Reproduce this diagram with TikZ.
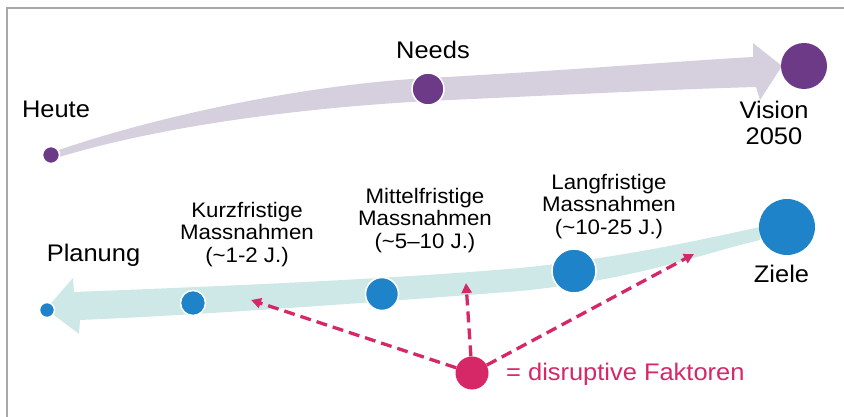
\documentclass[tikz,border=0pt]{standalone}
\usepackage{fontspec}
\setmainfont[FakeStretch=1.06]{Liberation Sans}
\usetikzlibrary{arrows.meta}

\definecolor{bandpurple}{RGB}{214,208,222}
\definecolor{dotpurple}{RGB}{108,58,134}
\definecolor{bandteal}{RGB}{205,232,231}
\definecolor{dotblue}{RGB}{30,131,200}
\definecolor{disrupt}{RGB}{214,40,102}
\definecolor{framegray}{RGB}{168,168,168}

\tikzset{
  dot/.style={circle, inner sep=0pt, draw=white, line width=1.5pt},
  purpledot/.style={dot, fill=dotpurple},
  bluedot/.style={dot, fill=dotblue},
  biglabel/.style={font=\fontsize{24}{26}\selectfont, inner sep=0pt, align=center},
  smalllabel/.style={font=\fontsize{21}{22.5}\selectfont, inner sep=0pt, align=center},
  impact/.style={draw=disrupt, line width=3.3pt, dash pattern=on 11pt off 6pt,
    -{Triangle[length=10pt,width=10pt]}}
}

\begin{document}
\begin{tikzpicture}[x=1pt,y=-1pt]
  \useasboundingbox (0,0) rectangle (844,417);
  \fill[white] (0,0) rectangle (844,417);
  % frame edges
  \draw[framegray, line width=2pt] (7,417) -- (7,8.5) -- (844,8.5);

  % upper band: from today towards the vision
  \fill[bandpurple] (53,152) .. controls (150,118) and (300,85) .. (428,78)
    .. controls (560,71) and (680,61) .. (753,57) -- (753,43) -- (782,66)
    -- (760,100) -- (756,87) .. controls (680,89) and (560,95) .. (428,101)
    .. controls (300,108) and (160,126) .. (56,158) -- cycle;

  % lower band: from the goals back to planning
  \fill[bandteal] (760,227) .. controls (700,240) and (620,258) .. (520,268)
    .. controls (380,280) and (200,287) .. (74,292) -- (73,278) -- (46,309)
    -- (79,334) -- (80,320) .. controls (200,315) and (380,302) .. (520,291)
    .. controls (640,279) and (700,254) .. (760,240) -- cycle;

  % milestones
  \node[purpledot, minimum size=17pt] (heute) at (51,155) {};
  \node[purpledot, minimum size=32pt] (needs) at (428,89) {};
  \node[purpledot, minimum size=46pt, draw=none] (vision) at (804,66) {};

  \node[bluedot, minimum size=15pt] (planung) at (47,310) {};
  \node[bluedot, minimum size=25pt] (kurz) at (193,303) {};
  \node[bluedot, minimum size=33pt] (mittel) at (382,294) {};
  \node[bluedot, minimum size=44pt] (lang) at (574,271) {};
  \node[bluedot, minimum size=56pt, draw=none] (ziele) at (787,227) {};

  \node[circle, inner sep=0pt, minimum size=33pt, fill=disrupt] (pink) at (472,373) {};

  % labels
  \node[biglabel, anchor=base] (lheute) at (56,118) {Heute};
  \node[biglabel, anchor=base] (lneeds) at (433,58.5) {Needs};
  \node[biglabel, anchor=base] (lvision) at (774,145) {Vision\\2050};
  \node[biglabel, anchor=base] (lplanung) at (93.5,261) {Planung};
  \node[biglabel, anchor=base] (lziele) at (781.5,282) {Ziele};

  \node[smalllabel, anchor=base] (lkurz) at (247,262)
    {Kurzfristige\\Massnahmen\\(\textasciitilde1-2 J.)};
  \node[smalllabel, anchor=base] (lmittel) at (425,248)
    {Mittelfristige\\Massnahmen\\(\textasciitilde5–10 J.)};
  \node[smalllabel, anchor=base] (llang) at (609,234)
    {Langfristige\\Massnahmen\\(\textasciitilde10-25 J.)};

  \node[biglabel, anchor=base west, text=disrupt] (ldisrupt) at (506,380)
    {= disruptive Faktoren};

  % disruptive influences
  \coordinate (tipK) at (251,300);
  \coordinate (tipM) at (466,283);
  \coordinate (tipL) at (694,254);
  \draw[impact] (pink) -- (tipK);
  \draw[impact] (pink) -- (tipM);
  \draw[impact] (pink) -- (tipL);
\end{tikzpicture}
\end{document}
